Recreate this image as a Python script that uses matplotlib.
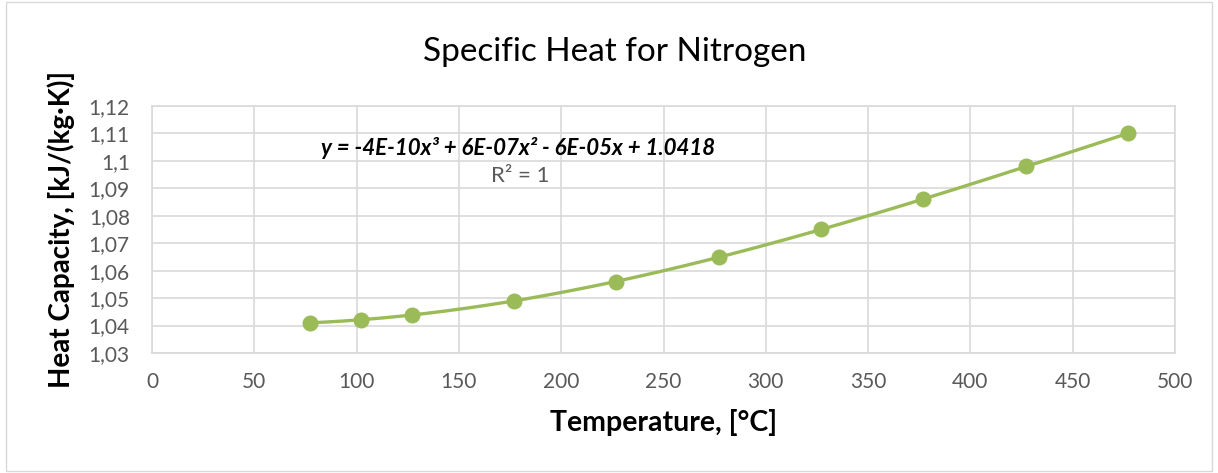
import numpy as np
import matplotlib
matplotlib.use("Agg")
import matplotlib.pyplot as plt
from matplotlib.patches import Rectangle

# Data
temps = [77, 102, 127, 177, 227, 277, 327, 377, 427, 477]
cp = [1.041, 1.042, 1.044, 1.049, 1.056, 1.065, 1.075, 1.086, 1.098, 1.110]
y_ticks = [1.03, 1.04, 1.05, 1.06, 1.07, 1.08, 1.09, 1.10, 1.11, 1.12]
x_ticks = [0, 50, 100, 150, 200, 250, 300, 350, 400, 450, 500]

GREEN = "#9BBB59"
GRID = "#D9D9D9"
TICK = "#595959"

plt.rcParams['font.family'] = ['Lato', 'DejaVu Sans']

fig = plt.figure(figsize=(12.18, 4.73), dpi=100)
ax = fig.add_axes([0.1248, 0.2537, 0.8399, 0.5222])

# outer chart border
fig.patches.append(Rectangle((0.005, 0.005), 0.99, 0.99, transform=fig.transFigure,
                             fill=False, edgecolor=GRID, lw=1))

# polynomial trendline (order 3) from the data
coef = np.polyfit(temps, cp, 3)
xs = np.linspace(min(temps), max(temps), 200)
ax.plot(xs, np.polyval(coef, xs), color=GREEN, lw=2.4, zorder=3)
ax.plot(temps, cp, 'o', color=GREEN, markersize=10.5, zorder=4)

ax.set_xlim(0, 500)
ax.set_ylim(1.03, 1.12)
ax.set_xticks(x_ticks)
ax.set_yticks(y_ticks)
ax.set_xticklabels([str(v) for v in x_ticks])
ax.set_yticklabels([f"{v:g}".replace('.', ',') for v in y_ticks])
ax.tick_params(length=0, labelsize=15, labelcolor=TICK)
ax.tick_params(axis='y', pad=16)
ax.tick_params(axis='x', pad=14)
ax.grid(True, color=GRID, lw=1.2)
ax.set_axisbelow(True)
for s in ax.spines.values():
    s.set_color(GRID)
    s.set_linewidth(1.2)

ax.set_xlabel("Temperature, [°C]", fontsize=20.5, fontweight='bold', labelpad=12)
ax.set_ylabel("Heat Capacity, [kJ/(kg·K)]", fontsize=20, fontweight='bold', labelpad=10)
fig.text(0.505, 0.89, "Specific Heat for Nitrogen", fontsize=24, ha='center', va='center')

ax.text(179, 1.1047, r"y = -4E-10x³ + 6E-07x² - 6E-05x + 1.0418",
        fontsize=16, fontweight='bold', style='italic', ha='center', va='center')
ax.text(180, 1.0945, "R² = 1", fontsize=16, color=TICK, ha='center', va='center')

fig.savefig("out.png", dpi=100)
